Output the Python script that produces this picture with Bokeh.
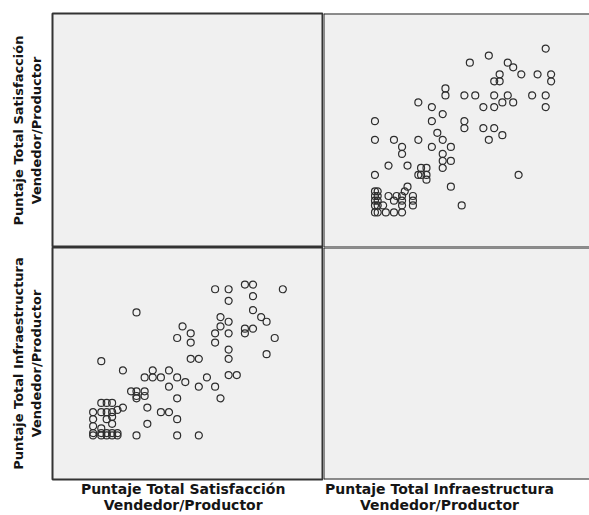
from bokeh.plotting import figure
from bokeh.layouts import column, row
from bokeh.models import Range1d, FixedTicker, Span, ColumnDataSource
from bokeh.embed import file_html
from bokeh.resources import INLINE

# Puntaje Total Infraestructura (x in upper-right panel, y in lower-left panel)
infra = [82, 61, 54, 68, 70, 73, 79, 84, 84, 65, 63, 65, 45, 45, 52, 56, 63, 68, 77, 82,
         66, 70, 35, 40, 44, 59, 63, 82, 19, 40, 52, 52, 59, 63, 66, 61, 19, 26, 35, 42,
         44, 29, 29, 40, 47, 44, 44, 47, 44, 24, 31, 19, 36, 38, 35, 36, 38, 38, 72, 31,
         47, 51,
         19, 20, 30, 19, 20, 24, 27, 29, 33, 19, 20, 26, 29, 33, 19, 20, 22, 29, 33,
         19, 20, 23, 26, 29]
# Puntaje Total Satisfacción (y in upper-right panel, x in lower-left panel)
satisf = [85, 82, 79, 79, 77, 74, 74, 74, 71, 74, 71, 71, 68, 65, 65, 65, 65, 65, 65, 65,
          62, 62, 62, 60, 57, 60, 60, 60, 54, 54, 54, 51, 51, 51, 48, 46, 46, 46, 46, 49,
          46, 43, 40, 43, 43, 40, 37, 37, 34, 35, 35, 31, 34, 34, 31, 31, 31, 29, 31, 26,
          26, 18,
          24, 24, 24, 22, 22, 22, 22, 22, 22, 20, 20, 20, 20, 20, 18, 18, 18, 18, 18,
          15, 15, 15, 15, 15]

label_sat = "Puntaje Total Satisfacción\nVendedor/Productor"
label_inf = "Puntaje Total Infraestructura\nVendedor/Productor"
# captions under the panels sit a little left of the panel centres in the original
NB = "\u00a0"
label_sat_x = "Puntaje Total Satisfacción" + NB * 2 + "\nVendedor/Productor" + NB * 2
label_inf_x = "Puntaje Total Infraestructura" + NB * 7 + "\nVendedor/Productor" + NB * 7

BG = "#f0f0f0"
EDGE = "#333333"
PT = "#2e2e2e"

FRAME_W = 271
RIGHT_W = 266
LEFT_B = 52
TOP_B = 13
TOP_FH = 234
BOT_FH = 233
BOT_B = 35

src = ColumnDataSource(dict(infra=infra, satisf=satisf))


def style_axis(ax, text, size, standoff, lh):
    ax.ticker = FixedTicker(ticks=[])
    ax.axis_line_color = None
    ax.major_tick_line_color = None
    ax.minor_tick_line_color = None
    ax.major_tick_out = 0
    ax.major_tick_in = 0
    ax.major_label_standoff = 0
    ax.axis_label = text
    ax.axis_label_text_font = "DejaVu Sans"
    ax.axis_label_text_font_style = "bold"
    ax.axis_label_text_font_size = size
    ax.axis_label_text_color = "#151515"
    ax.axis_label_text_line_height = lh
    ax.axis_label_standoff = standoff


def make(w, h, xr, yr, xloc, yloc, mb, outline=True):
    p = figure(width=w, height=h, x_range=xr, y_range=yr,
               x_axis_location=xloc, y_axis_location=yloc,
               output_backend="svg", toolbar_location=None,
               min_border_left=mb[0], min_border_right=mb[1],
               min_border_top=mb[2], min_border_bottom=mb[3])
    p.background_fill_color = BG
    p.border_fill_color = "white"
    p.grid.visible = False
    if outline:
        p.outline_line_color = EDGE
        p.outline_line_width = 2
    else:
        p.outline_line_color = None
    return p


right_end = 100 * RIGHT_W / FRAME_W

# top-left: empty (Satisfacción row label)
tl = make(LEFT_B + FRAME_W, TOP_B + TOP_FH, Range1d(0, 100), Range1d(0, 100),
          None, "left", (LEFT_B, 0, TOP_B, 0))
style_axis(tl.yaxis[0], label_sat, "13px", 9, 1.2)

# top-right: x = Infraestructura, y = Satisfacción
tr = make(RIGHT_W, TOP_B + TOP_FH, Range1d(0, right_end), Range1d(0, 100),
          None, None, (0, 0, TOP_B, 0), outline=False)
tr.scatter("infra", "satisf", source=src, size=7, marker="circle",
           fill_color=None, line_color=PT, line_width=1.2)

# bottom-left: x = Satisfacción, y = Infraestructura
bl = make(LEFT_B + FRAME_W, BOT_FH + BOT_B, Range1d(0, 100), Range1d(0, 100),
          "below", "left", (LEFT_B, 0, 0, BOT_B))
style_axis(bl.yaxis[0], label_inf, "13px", 9, 1.2)
style_axis(bl.xaxis[0], label_sat_x, "14px", 1, 1.0)
bl.scatter("satisf", "infra", source=src, size=7, marker="circle",
           fill_color=None, line_color=PT, line_width=1.2)

# bottom-right: empty
br = make(RIGHT_W, BOT_FH + BOT_B, Range1d(0, right_end), Range1d(0, 100),
          "below", None, (0, 0, 0, BOT_B), outline=False)
style_axis(br.xaxis[0], label_inf_x, "14px", 1, 1.0)

for p in (tr, br):
    p.add_layout(Span(location=100, dimension="width", line_color="#222222", line_width=2))
    p.add_layout(Span(location=0, dimension="width", line_color="#222222", line_width=2))
    p.add_layout(Span(location=0, dimension="height", line_color="#222222", line_width=2))

layout = column(row(tl, tr), row(bl, br))

open("out.html", "w").write(file_html(layout, INLINE))
